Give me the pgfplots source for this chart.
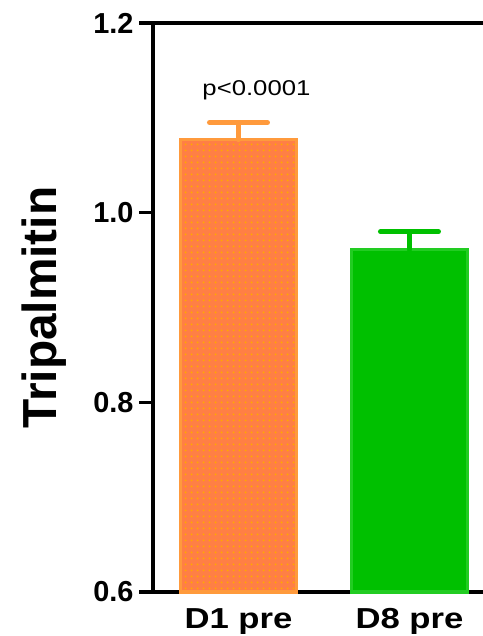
\documentclass[border=0pt]{standalone}
\usepackage{pgfplots}
\pgfplotsset{compat=1.18}
\usepackage{fontspec}
\setmainfont{Liberation Sans}
\newfontfamily\widefont[FakeStretch=1.2]{Liberation Sans}
\usetikzlibrary{patterns.meta}
\definecolor{orfill}{HTML}{FF7F45}
\definecolor{oredge}{HTML}{FF9A3C}
\definecolor{ordot}{HTML}{FFA800}
\definecolor{grfill}{HTML}{00C000}
\definecolor{gredge}{HTML}{22CC22}
\begin{document}
\begin{tikzpicture}
\begin{axis}[
  at={(153bp,44bp)}, anchor=south west,
  scale only axis, width=330bp, height=569bp,
  xmin=-0.5, xmax=1.43, ymin=0.6, ymax=1.2,
  axis x line*=bottom, axis y line*=left,
  axis line style={line width=3.5bp},
  ytick={0.6,0.8,1.0,1.2},
  yticklabel style={/pgf/number format/fixed, /pgf/number format/fixed zerofill, /pgf/number format/precision=1,
    font=\fontsize{29}{30}\selectfont\bfseries, xshift=-3bp},
  /pgf/number format/assume math mode=true,
  tick style={draw=black, line width=3.5bp},
  tick align=outside, major tick length=13bp,
  xtick={0,1}, xticklabels={D1 pre, D8 pre},
  xtick style={/pgfplots/major tick length=0pt},
  xticklabel style={font=\widefont\fontsize{29}{30}\selectfont\bfseries},
  ylabel={Tripalmitin},
  ylabel style={font=\fontsize{48}{50}\selectfont\bfseries, at={(axis description cs:-0.33,0.5)}, anchor=center},
  ybar, bar width=116bp, bar shift=0pt,
  clip=false,
]
\draw[line width=3.5bp] (axis cs:-0.5,1.2) -- (axis cs:1.45,1.2);
\pgfplotsinvokeforeach{0.6,0.8,1.0,1.2}{
  \draw[line width=3.5bp, black] (axis cs:-0.5,#1) -- ([xshift=-14bp]axis cs:-0.5,#1);
}
\addplot[fill=orfill, draw=oredge, line width=3.5bp,
  postaction={pattern={Dots[distance=6bp, radius=1.2bp]}, pattern color=ordot},
  error bars/.cd, y dir=plus, y explicit,
  error bar style={line width=5bp, oredge, line cap=round},
  error mark options={line width=5bp, oredge, mark size=29bp, rotate=90, line cap=round}]
  coordinates {(0,1.077) +- (0,0.018)};
\addplot[fill=grfill, draw=gredge, line width=3.5bp,
  error bars/.cd, y dir=plus, y explicit,
  error bar style={line width=5bp, grfill, line cap=round},
  error mark options={line width=5bp, grfill, mark size=29bp, rotate=90, line cap=round}]
  coordinates {(1,0.961) +- (0,0.019)};
\node[font=\widefont\fontsize{21.5}{23}\selectfont, anchor=base] at (axis cs:0.105,1.1236) {p<0.0001};
\end{axis}
\pgfresetboundingbox
\path (0,0) rectangle (483bp,636bp);
\end{tikzpicture}
\end{document}
